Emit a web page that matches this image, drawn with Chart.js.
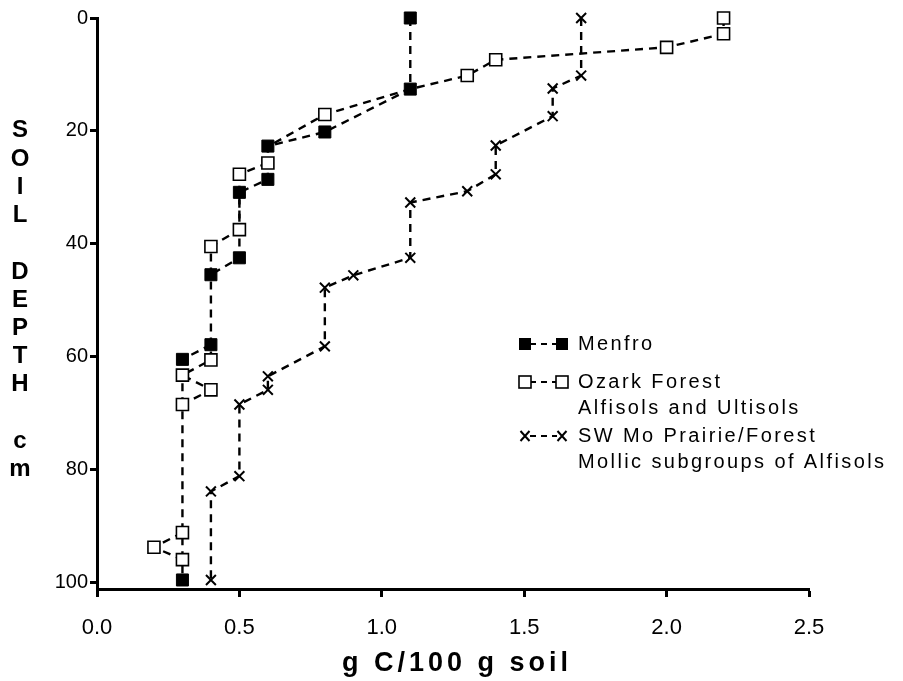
<!DOCTYPE html>
<html>
<head>
<meta charset="utf-8">
<script src="https://cdn.jsdelivr.net/npm/chart.js@4.4.0/dist/chart.umd.min.js"></script>
<style>
  html, body { margin: 0; padding: 0; background: #fff; }
  #wrap { width: 903px; height: 681px; position: relative; }
</style>
</head>
<body>
<div id="wrap"><canvas id="soil"></canvas></div>
<script>
// values: carbon (g C / 100 g soil) vs depth (cm)
const menfroC     = [1.1, 1.1, 0.8, 0.6, 0.6, 0.5, 0.5, 0.4, 0.4, 0.3, 0.3];
const menfroDepth = [0, 12.6, 20.2, 22.7, 28.6, 30.9, 42.5, 45.5, 57.9, 60.5, 99.6];

const ozarkC     = [2.2, 2.2, 2.0, 1.4, 1.3, 1.1, 0.8, 0.6, 0.6, 0.5, 0.5, 0.4, 0.4, 0.3, 0.4, 0.3, 0.3, 0.2, 0.3];
const ozarkDepth = [0, 2.8, 5.2, 7.4, 10.2, 12.6, 17.1, 22.8, 25.7, 27.7, 37.5, 40.5, 60.6, 63.3, 65.9, 68.5, 91.2, 93.8, 96.0];

const swmoC     = [1.7, 1.7, 1.6, 1.6, 1.4, 1.4, 1.3, 1.1, 1.1, 0.9, 0.8, 0.8, 0.6, 0.6, 0.5, 0.5, 0.4, 0.4];
const swmoDepth = [0, 10.2, 12.5, 17.4, 22.6, 27.7, 30.7, 32.7, 42.5, 45.6, 47.8, 58.2, 63.5, 65.9, 68.5, 81.2, 83.9, 99.6];

const xTicks = [0, 0.5, 1.0, 1.5, 2.0, 2.5];
const yTicks = [0, 20, 40, 60, 80, 100];

const seriesNames = ['Menfro', 'Ozark Forest', 'SW Mo Prairie/Forest'];
const legendLines = [
  ['Menfro'],
  ['Ozark Forest', 'Alfisols and Ultisols'],
  ['SW Mo Prairie/Forest', 'Mollic subgroups of Alfisols']
];
const xTitle = 'g C/100 g soil';
const yTitle = 'SOIL DEPTH cm';

const pts = (xs, ys) => xs.map((x, i) => ({ x: x, y: ys[i] }));
const menfroPts = pts(menfroC, menfroDepth);
const ozarkPts = pts(ozarkC, ozarkDepth);
const swmoPts = pts(swmoC, swmoDepth);

const FONT = '"Liberation Sans", Arial, sans-serif';

// ozark points that sit under a Menfro square are not drawn
const hiddenUnderMenfro = (ctx) => {
  const p = ozarkPts[ctx.dataIndex];
  if (!p) return 8.5;
  return menfroPts.some(m => m.x === p.x && Math.abs(m.y - p.y) < 0.5) ? 0 : 8.5;
};

// vertical pieces that lie inside the other series' vertical piece would
// turn the two dash patterns into a solid line, so leave them out
const vertSegs = arr => arr.slice(1).map((p, i) => [arr[i], p])
  .filter(s => s[0].x === s[1].x)
  .map(s => ({ x: s[0].x, a: Math.min(s[0].y, s[1].y), b: Math.max(s[0].y, s[1].y) }));
const menfroV = vertSegs(menfroPts), ozarkV = vertSegs(ozarkPts);
const insideOf = (others) => (ctx) => {
  const p0 = ctx.p0.parsed, p1 = ctx.p1.parsed;
  if (p0.x !== p1.x) return undefined;
  const a = Math.min(p0.y, p1.y), b = Math.max(p0.y, p1.y);
  return others.some(o => o.x === p0.x && o.a <= a && o.b >= b && !(o.a === a && o.b === b))
    ? 'rgba(0,0,0,0)' : undefined;
};

const lineCommon = {
  showLine: true,
  clip: false,
  borderColor: '#000',
  borderWidth: 2.4,
  borderDash: [8, 6],
  tension: 0,
  pointBorderColor: '#000'
};

const titlesAndLegend = {
  id: 'titlesAndLegend',
  afterDraw(chart) {
    const ctx = chart.ctx;
    ctx.save();
    ctx.fillStyle = '#000';
    ctx.strokeStyle = '#000';

    // stacked vertical y title
    ctx.font = 'bold 24px ' + FONT;
    ctx.textAlign = 'center';
    ctx.textBaseline = 'middle';
    const ys = chart.scales.y;
    const y20 = ys.getPixelForValue(20), y60 = ys.getPixelForValue(60);
    const step = (y60 - y20) / 8;
    [...yTitle].forEach((ch, i) => {
      if (ch !== ' ') ctx.fillText(ch, 20, y20 + i * step);
    });

    // x title
    ctx.font = 'bold 27px ' + FONT;
    ctx.letterSpacing = '4px';
    ctx.fillText(xTitle, 457, 664);

    // legend
    ctx.font = '20px ' + FONT;
    ctx.letterSpacing = '2.4px';
    ctx.textAlign = 'left';
    const rows = [[344], [382, 408], [436, 462]];
    const mx1 = 525, mx2 = 562, tx = 578;
    rows.forEach((r, i) => {
      const y = r[0];
      ctx.lineWidth = 2.2;
      ctx.setLineDash([6, 5]);
      ctx.beginPath();
      ctx.moveTo(mx1 + 5, y);
      ctx.lineTo(mx2 - 5, y);
      ctx.stroke();
      ctx.setLineDash([]);
      [mx1, mx2].forEach(mx => {
        if (i === 0) {
          ctx.fillRect(mx - 6, y - 6, 12, 12);
        } else if (i === 1) {
          ctx.fillStyle = '#fff';
          ctx.fillRect(mx - 6, y - 6, 12, 12);
          ctx.fillStyle = '#000';
          ctx.lineWidth = 1.6;
          ctx.strokeRect(mx - 6, y - 6, 12, 12);
        } else {
          ctx.lineWidth = 2;
          ctx.beginPath();
          ctx.moveTo(mx - 4.5, y - 5); ctx.lineTo(mx + 4.5, y + 5);
          ctx.moveTo(mx + 4.5, y - 5); ctx.lineTo(mx - 4.5, y + 5);
          ctx.stroke();
        }
      });
      legendLines[i].forEach((t, k) => ctx.fillText(t, tx, r[k]));
    });
    ctx.restore();
  }
};

new Chart(document.getElementById('soil'), {
  type: 'scatter',
  data: {
    datasets: [
      Object.assign({}, lineCommon, {
        label: seriesNames[0],
        data: menfroPts,
        order: 1,
        pointStyle: 'rect',
        pointRadius: 8.5,
        pointBackgroundColor: '#000',
        pointBorderWidth: 1,
        segment: { borderColor: insideOf(ozarkV) }
      }),
      Object.assign({}, lineCommon, {
        label: seriesNames[1],
        data: ozarkPts,
        order: 0,
        pointStyle: 'rect',
        pointRadius: hiddenUnderMenfro,
        pointBackgroundColor: '#fff',
        pointBorderWidth: 1.6,
        segment: { borderColor: insideOf(menfroV) }
      }),
      Object.assign({}, lineCommon, {
        label: seriesNames[2],
        data: swmoPts,
        order: 2,
        pointStyle: 'crossRot',
        pointRadius: 7,
        pointBorderWidth: 2
      })
    ]
  },
  options: {
    responsive: true,
    maintainAspectRatio: false,
    animation: false,
    layout: { padding: { top: 18, right: 94, left: 0, bottom: 0 } },
    plugins: { legend: { display: false }, tooltip: { enabled: false } },
    scales: {
      x: {
        type: 'linear',
        min: 0,
        max: 2.5,
        afterFit: s => { s.height = 92; },
        afterBuildTicks: s => { s.ticks = xTicks.map(v => ({ value: v })); },
        border: { color: '#000', width: 3 },
        grid: { drawOnChartArea: false, tickLength: 8, tickColor: '#000', tickWidth: 3 },
        ticks: {
          color: '#000',
          padding: 18,
          font: { family: FONT, size: 22 },
          callback: v => v.toFixed(1)
        }
      },
      y: {
        type: 'linear',
        reverse: true,
        min: 0,
        max: 101.2,
        afterFit: s => { s.width = 97; },
        afterBuildTicks: s => { s.ticks = yTicks.map(v => ({ value: v })); },
        border: { color: '#000', width: 3 },
        grid: { drawOnChartArea: false, tickLength: 7, tickColor: '#000', tickWidth: 3 },
        ticks: {
          color: '#000',
          padding: 2,
          font: { family: FONT, size: 20 }
        }
      }
    }
  },
  plugins: [titlesAndLegend]
});
</script>
</body>
</html>
